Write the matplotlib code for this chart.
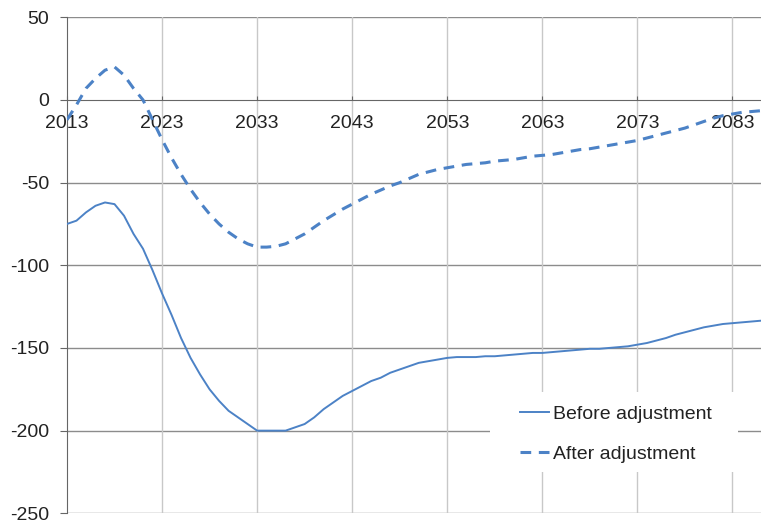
import matplotlib
matplotlib.use('Agg')
import matplotlib.pyplot as plt
from matplotlib.patches import Rectangle
import numpy as np

plt.rcParams['font.family'] = ['Liberation Sans', 'DejaVu Sans']
plt.rcParams['axes.unicode_minus'] = False

# annual series, 2013-2086
years = np.arange(2013, 2087)
before = [-75, -73, -68, -64, -62, -63, -70, -81, -90, -103,
          -117, -130, -144, -156, -166, -175, -182, -188, -192, -196,
          -200, -200, -200, -200, -198, -196, -192, -187, -183, -179,
          -176, -173, -170, -168, -165, -163, -161, -159, -158, -157,
          -156, -155.5, -155.5, -155.5, -155, -155, -154.5, -154, -153.5, -153,
          -153, -152.5, -152, -151.5, -151, -150.5, -150.5, -150, -149.5, -149,
          -148, -147, -145.5, -144, -142, -140.5, -139, -137.5, -136.5, -135.5,
          -135, -134.5, -134, -133.5]
after = [-12, -3, 7, 13, 18, 20, 15, 7, 0, -12,
         -24, -35, -45, -54, -62, -69, -75, -80, -84, -87,
         -89, -89, -88.5, -87, -84, -81, -77, -73, -69.5, -66,
         -63, -60, -57, -54.5, -52, -50, -47.5, -45, -43.5, -42,
         -41, -40, -39, -38.5, -38, -37, -36.5, -36, -35, -34,
         -33.5, -33, -32, -31, -30, -29.5, -28.5, -27.5, -26.5, -25.5,
         -24.5, -23, -21.5, -20, -18.5, -17, -15, -13, -11, -9.5,
         -8.5, -7.5, -7, -6.5]
xticks = np.arange(2013, 2084, 10)
yticks = np.arange(-250, 51, 50)

blue = '#4c82c6'
fig = plt.figure(figsize=(7.61, 5.24), dpi=100)
ax = fig.add_axes([0.088, 0.0204, 0.912, 0.9466])

ax.plot(years, before, color=blue, lw=1.4, label='Before adjustment', zorder=3)
ax.plot(years, after, color=blue, lw=2.2, ls=(0, (3.5, 2.5)), label='After adjustment', zorder=3)

ax.set_xlim(2013, 2086)
ax.set_ylim(-250, 50)
ax.set_xticks(xticks)
ax.set_yticks(yticks)

# gridlines: horizontal darker than vertical
for v in yticks:
    if v != 0:
        ax.axhline(v, color='#8c8c8c', lw=1, zorder=1)
for x in xticks[1:]:
    ax.axvline(x, color='#c8c8c8', lw=1, zorder=1)

for s in ['top', 'right']:
    ax.spines[s].set_visible(False)
ax.spines['bottom'].set_position(('data', 0))
ax.spines['bottom'].set_color('#666666')
ax.spines['left'].set_color('#666666')
ax.spines['bottom'].set_zorder(2)

ax.tick_params(axis='x', direction='in', length=3, pad=11, labelsize=14, colors='#666666', labelcolor='#222222')
ax.tick_params(axis='y', direction='out', length=5, pad=8, labelsize=14, colors='#666666', labelcolor='#222222')

# white box behind the legend
ax.add_patch(Rectangle((0.6095, 0.0833), 0.3574, 0.1613, transform=ax.transAxes,
                       facecolor='white', edgecolor='none', zorder=4))
leg = ax.legend(loc='upper left', bbox_to_anchor=(0.6527, 0.2184), fontsize=14,
                frameon=False, handlelength=1.5, handletextpad=0.2, labelspacing=1.15,
                borderpad=0, borderaxespad=0)
for t in leg.get_texts():
    t.set_color('#222222')
leg.set_zorder(5)

fig.savefig('out.png', dpi=100)
plt.close()
